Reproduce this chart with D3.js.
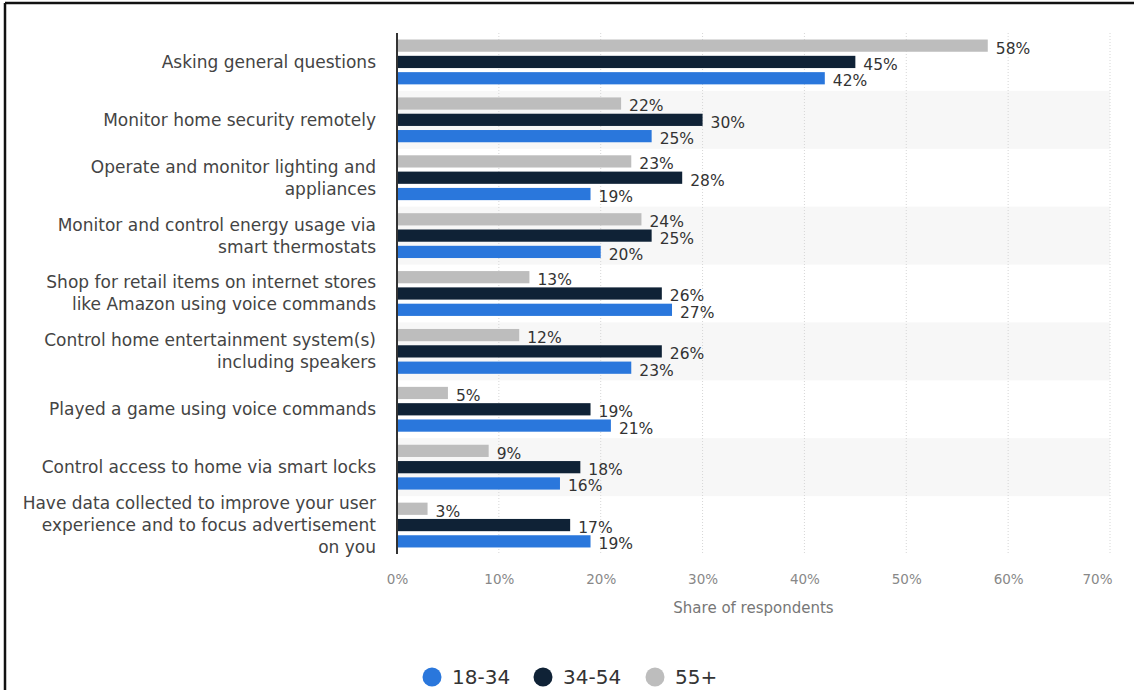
<!DOCTYPE html>
<html>
<head>
<meta charset="utf-8">
<script src="https://cdn.jsdelivr.net/npm/d3@7"></script>
<style>
  body { margin: 0; background: #fff; }
  svg { display: block; }
</style>
</head>
<body>
<div class="graph"></div>
<script>
// chart data
var categories = [
  ["Asking general questions"],
  ["Monitor home security remotely"],
  ["Operate and monitor lighting and", "appliances"],
  ["Monitor and control energy usage via", "smart thermostats"],
  ["Shop for retail items on internet stores", "like Amazon using voice commands"],
  ["Control home entertainment system(s)", "including speakers"],
  ["Played a game using voice commands"],
  ["Control access to home via smart locks"],
  ["Have data collected to improve your user", "experience and to focus advertisement", "on you"]
];
var seriesNames = ["55+", "34-54", "18-34"];
var values55 = [58, 22, 23, 24, 13, 12, 5, 9, 3];
var values3454 = [45, 30, 28, 25, 26, 26, 19, 18, 17];
var values1834 = [42, 25, 19, 20, 27, 23, 21, 16, 19];
var tickValues = [0, 10, 20, 30, 40, 50, 60, 70];
var legendNames = ["18-34", "34-54", "55+"];

var colors = {"18-34": "#2a77dc", "34-54": "#0f2236", "55+": "#bdbdbd"};

var W = 1134, H = 690;
var margin = {top: 33, left: 397, right: 24, bottom: 136};

var svg = d3.select(".graph").append("svg")
    .attr("width", W)
    .attr("height", H);

// frame lines (top and left only)
svg.append("line").attr("x1", 5).attr("x2", W).attr("y1", 3).attr("y2", 3)
    .attr("stroke", "#111").attr("stroke-width", 2.5);
svg.append("line").attr("x1", 5).attr("x2", 5).attr("y1", 3).attr("y2", H)
    .attr("stroke", "#111").attr("stroke-width", 2.5);

var x = d3.scaleLinear().domain([0, 70]).range([margin.left, 1110]);
var y = d3.scaleBand().domain(d3.range(categories.length))
    .range([margin.top, H - margin.bottom]);
var inner = d3.scaleBand().domain(seriesNames)
    .range([0, y.bandwidth()]).paddingInner(0.25).paddingOuter(0.4);

var g = svg.append("g");

// alternate band shading
g.selectAll("rect.band")
  .data(d3.range(categories.length).filter(function(i) { return i % 2 == 1; }))
  .enter().append("rect")
    .attr("class", "band")
    .attr("x", x(0))
    .attr("y", function(i) { return y(i); })
    .attr("width", x(70) - x(0))
    .attr("height", y.bandwidth())
    .attr("fill", "#f7f7f7");

// gridlines
g.selectAll("line.grid")
  .data(tickValues.slice(1))
  .enter().append("line")
    .attr("class", "grid")
    .attr("x1", function(d) { return x(d); })
    .attr("x2", function(d) { return x(d); })
    .attr("y1", margin.top)
    .attr("y2", H - margin.bottom)
    .attr("stroke", "#d6d6d6")
    .attr("stroke-dasharray", "1,2");

var seriesData = {"55+": values55, "34-54": values3454, "18-34": values1834};

seriesNames.forEach(function(s, k) {
  var vals = seriesData[s];
  g.selectAll("rect.bar" + k)
    .data(vals)
    .enter().append("rect")
      .attr("class", "bar" + k)
      .attr("x", x(0))
      .attr("y", function(d, i) { return y(i) + inner(s); })
      .attr("width", function(d) { return x(d) - x(0); })
      .attr("height", inner.bandwidth())
      .attr("fill", colors[s]);

  g.selectAll("text.val" + k)
    .data(vals)
    .enter().append("text")
      .attr("class", "val" + k)
      .attr("x", function(d) { return x(d) + 8; })
      .attr("y", function(d, i) { return y(i) + inner(s) + inner.bandwidth() / 2 + 2.5; })
      .attr("dy", ".35em")
      .attr("font-family", "DejaVu Sans")
      .attr("font-size", 15.5)
      .attr("fill", "#333")
      .text(function(d) { return d + "%"; });
});

// y axis line
g.append("line")
    .attr("x1", x(0)).attr("x2", x(0))
    .attr("y1", margin.top).attr("y2", H - margin.bottom)
    .attr("stroke", "#333").attr("stroke-width", 2);

// category labels
var lineH = 22;
var labels = g.selectAll("text.cat")
  .data(categories)
  .enter().append("text")
    .attr("class", "cat")
    .attr("text-anchor", "end")
    .attr("font-family", "DejaVu Sans")
    .attr("font-size", 17)
    .attr("fill", "#444");

labels.each(function(lines, i) {
  var cy = y(i) + y.bandwidth() / 2 - (lines.length - 1) * lineH / 2;
  d3.select(this).selectAll("tspan")
    .data(lines)
    .enter().append("tspan")
      .attr("x", 376)
      .attr("y", function(d, j) { return cy + j * lineH; })
      .attr("dy", ".35em")
      .text(function(d) { return d; });
});

// x axis ticks
var xAxis = d3.axisBottom(x).tickValues(tickValues)
    .tickFormat(function(d) { return d + "%"; }).tickSize(0).tickPadding(0);
var ax = svg.append("g")
    .attr("transform", "translate(0," + 574 + ")")
    .call(xAxis);
ax.select(".domain").remove();
ax.selectAll("text")
    .attr("font-family", "DejaVu Sans")
    .attr("font-size", 13.5)
    .attr("fill", "#888");
// last label sits inside the chart edge
ax.selectAll(".tick").filter(function(d) { return d == 70; }).select("text")
    .attr("text-anchor", "end")
    .attr("x", 2);

svg.append("text")
    .attr("x", (x(0) + x(70)) / 2)
    .attr("y", 608)
    .attr("dy", ".35em")
    .attr("text-anchor", "middle")
    .attr("font-family", "DejaVu Sans")
    .attr("font-size", 15)
    .attr("fill", "#777")
    .text("Share of respondents");

// legend
var legendX = [432, 543, 655];
var legend = svg.selectAll("g.legend")
  .data(legendNames)
  .enter().append("g")
    .attr("class", "legend")
    .attr("transform", function(d, i) { return "translate(" + legendX[i] + ",677)"; });
legend.append("circle")
    .attr("r", 9.5)
    .attr("fill", function(d) { return colors[d]; });
legend.append("text")
    .attr("x", 20)
    .attr("dy", ".35em")
    .attr("font-family", "DejaVu Sans")
    .attr("font-size", 20)
    .attr("fill", "#333")
    .text(function(d) { return d; });
</script>
</body>
</html>
